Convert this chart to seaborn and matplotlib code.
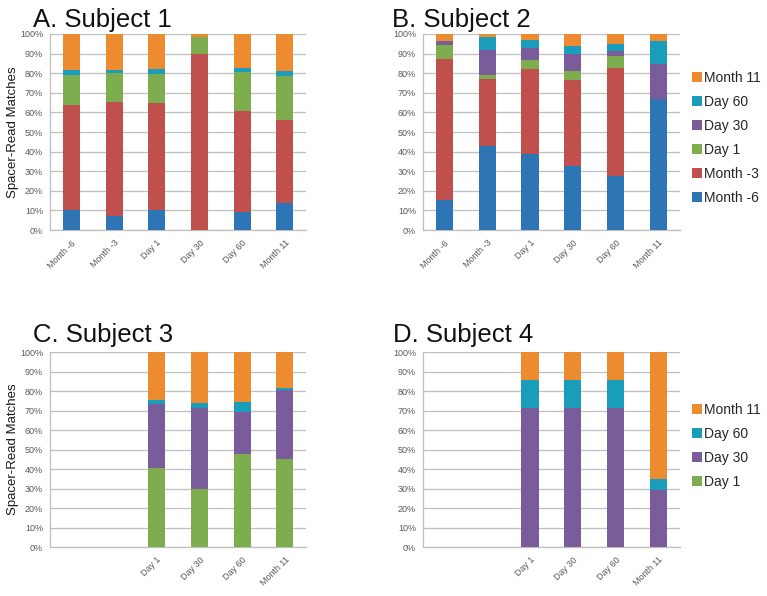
import matplotlib
matplotlib.use("Agg")
import numpy as np
import pandas as pd
import matplotlib.pyplot as plt
import seaborn as sns
from matplotlib.patches import Patch

# timepoints on the x axis, and the sample each spacer first showed up in
timepoints = ["Month -6", "Month -3", "Day 1", "Day 30", "Day 60", "Month 11"]
sources = ["Month -6", "Month -3", "Day 1", "Day 30", "Day 60", "Month 11"]
palette = ["#2E75B6", "#C0504D", "#7EAD4F", "#7A5C9A", "#1A9CBB", "#EC8B2F"]

# Subject 1 (percent of spacer-read matches per timepoint)
s1_month_m6 = [10.2, 7.3, 10.2, 0.0, 9.4, 13.9]
s1_month_m3 = [53.4, 58.0, 54.4, 90.0, 51.5, 42.2]
s1_day1 = [15.7, 14.8, 15.2, 8.5, 19.7, 22.3]
s1_day30 = [0.0, 0.0, 0.0, 0.0, 0.0, 0.0]
s1_day60 = [2.5, 1.4, 2.2, 0.0, 2.1, 2.7]
s1_month11 = [18.2, 18.5, 18.0, 1.5, 17.3, 18.9]

# Subject 2
s2_month_m6 = [15.4, 43.0, 38.6, 32.7, 27.7, 66.8]
s2_month_m3 = [72.0, 34.2, 43.7, 43.8, 55.0, 0.0]
s2_day1 = [6.8, 2.1, 4.4, 4.8, 6.1, 0.0]
s2_day30 = [2.4, 12.7, 6.2, 8.5, 2.7, 17.9]
s2_day60 = [0.0, 6.3, 4.0, 3.9, 3.4, 11.9]
s2_month11 = [3.4, 1.7, 3.1, 6.3, 5.1, 3.4]

# Subjects 3 and 4 were only sampled from Day 1 on
late_points = ["Day 1", "Day 30", "Day 60", "Month 11"]
late_sources = ["Day 1", "Day 30", "Day 60", "Month 11"]

s3_day1 = [40.3, 29.7, 47.8, 45.2]
s3_day30 = [33.2, 41.8, 21.7, 35.2]
s3_day60 = [2.1, 2.6, 4.7, 1.3]
s3_month11 = [24.4, 25.9, 25.8, 18.3]

s4_day1 = [0.0, 0.0, 0.0, 0.0]
s4_day30 = [71.4, 71.4, 71.4, 29.0]
s4_day60 = [14.3, 14.3, 14.3, 5.8]
s4_month11 = [14.3, 14.3, 14.3, 65.2]

GRID = "#BFBFBF"
TICK = "#595959"


def long_table(points, names, series):
    rows = []
    for p_i, point in enumerate(points):
        running = 0.0
        for name, vals in zip(names, series):
            running += vals[p_i]
            rows.append({"timepoint": point, "source": name,
                         "pct": vals[p_i], "top": running})
    return pd.DataFrame(rows)


def draw_panel(ax, points, names, series, title, title_xy,
               ylabel=True, legend_y=None):
    df = long_table(points, names, series)
    colors = dict(zip(sources, palette))
    # draw the tallest cumulative layer first, lower layers on top of it
    for name in reversed(names):
        sub = df[df["source"] == name]
        sns.barplot(data=sub, x="timepoint", y="top", order=timepoints,
                    color=colors[name], saturation=1, width=0.4,
                    errorbar=None, ax=ax, zorder=3,
                    linewidth=0, edgecolor="none")

    ax.set_ylim(0, 100)
    ax.set_xlim(-0.5, len(timepoints) - 0.5)
    ax.set_yticks(np.arange(0, 101, 10))
    ax.set_yticklabels([f"{v}%" for v in range(0, 101, 10)],
                       fontsize=6.5, color=TICK)
    ax.yaxis.grid(True, color=GRID, linewidth=0.9, zorder=0)
    ax.set_axisbelow(True)
    ax.tick_params(axis="y", length=3, color=GRID, pad=2)

    labels = [t if t in points else "" for t in timepoints]
    ax.set_xticks(range(len(timepoints)))
    ax.set_xticklabels(labels, rotation=45, ha="right",
                       rotation_mode="anchor", fontsize=6.5, color=TICK)
    ax.set_xticks(np.arange(-0.5, len(timepoints), 1.0), minor=True)
    ax.tick_params(axis="x", which="major", length=0, pad=6)
    ax.tick_params(axis="x", which="minor", length=3, color=GRID)
    ax.set_xlabel("")

    for side in ["top", "right"]:
        ax.spines[side].set_visible(False)
    for side in ["left", "bottom"]:
        ax.spines[side].set_color(GRID)
        ax.spines[side].set_linewidth(0.9)

    if ylabel:
        ax.set_ylabel("Spacer-Read Matches", fontsize=9.5, color="#1a1a1a",
                      labelpad=1)
    else:
        ax.set_ylabel("")

    if legend_y is not None:
        handles = [Patch(facecolor=colors[n], edgecolor="none", label=n)
                   for n in reversed(names)]
        ax.legend(handles=handles, loc="center left",
                  bbox_to_anchor=(1.045, legend_y), frameon=False,
                  fontsize=10, handlelength=0.72, handleheight=0.72,
                  handletextpad=0.15, labelspacing=0.72,
                  borderaxespad=0, borderpad=0)

    ax.figure.text(title_xy[0], title_xy[1], title, fontsize=18.5,
                   ha="left", va="baseline", color="#111111")


sns.set_theme(style="white")
plt.rcParams["font.family"] = ["Liberation Sans", "DejaVu Sans"]

fig = plt.figure(figsize=(7.67, 5.96), dpi=100)
ax_a = fig.add_axes([0.0652, 0.614, 0.334, 0.329])
ax_b = fig.add_axes([0.5515, 0.614, 0.335, 0.329])
ax_c = fig.add_axes([0.0652, 0.0822, 0.334, 0.327])
ax_d = fig.add_axes([0.5515, 0.0822, 0.335, 0.327])

draw_panel(ax_a, timepoints, sources,
           [s1_month_m6, s1_month_m3, s1_day1, s1_day30, s1_day60, s1_month11],
           "A. Subject 1", (0.043, 0.955))
draw_panel(ax_b, timepoints, sources,
           [s2_month_m6, s2_month_m3, s2_day1, s2_day30, s2_day60, s2_month11],
           "B. Subject 2", (0.511, 0.955), ylabel=False, legend_y=0.47)
draw_panel(ax_c, late_points, late_sources,
           [s3_day1, s3_day30, s3_day60, s3_month11],
           "C. Subject 3", (0.043, 0.427))
draw_panel(ax_d, late_points, late_sources,
           [s4_day1, s4_day30, s4_day60, s4_month11],
           "D. Subject 4", (0.512, 0.427), ylabel=False, legend_y=0.52)

fig.savefig("out.png", dpi=100, facecolor="white")
